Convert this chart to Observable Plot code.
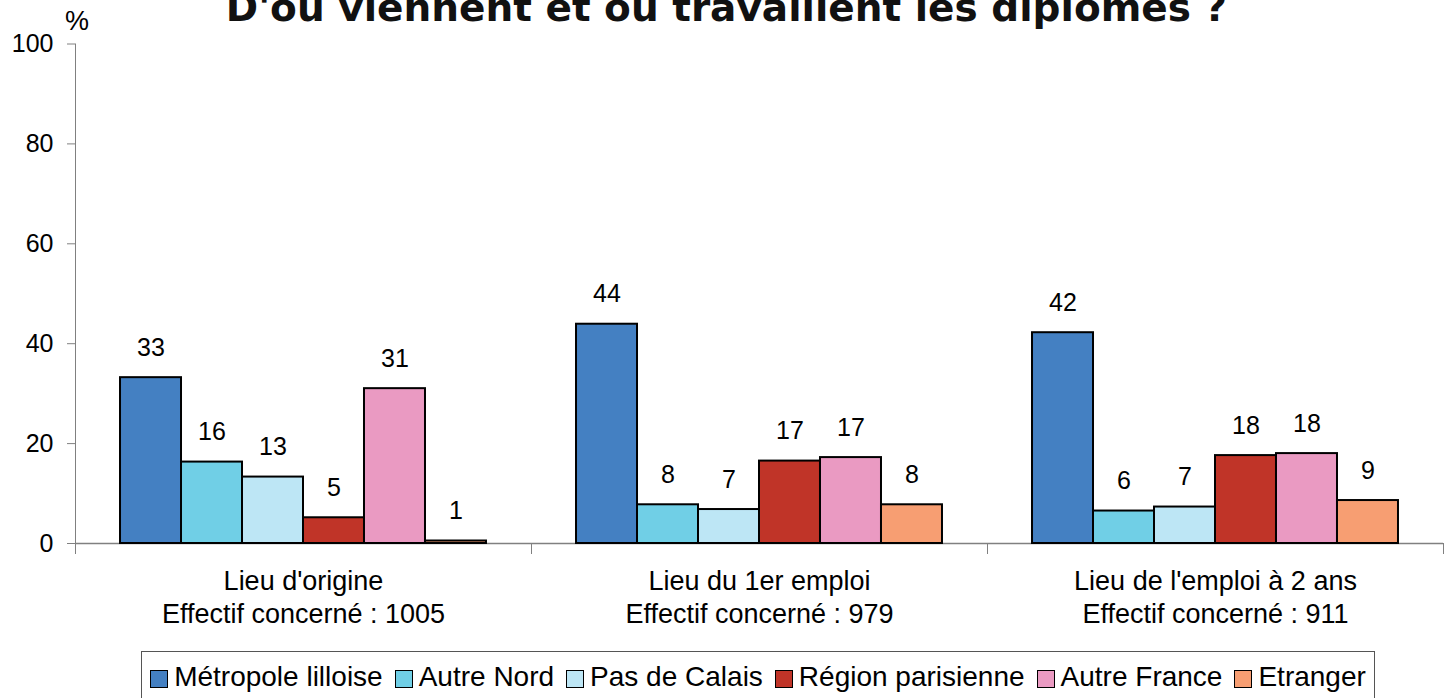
<!DOCTYPE html>
<html>
<head>
<meta charset="utf-8">
<script src="https://cdn.jsdelivr.net/npm/d3@7"></script>
<script src="https://cdn.jsdelivr.net/npm/@observablehq/plot@0.6"></script>
<style>
  html, body { margin: 0; padding: 0; background: #fff; overflow: hidden; }
  #wrap { position: relative; width: 1453px; height: 698px; font-family: "Liberation Sans", Arial, sans-serif; }
  #title { position: absolute; left: 0; width: 1453px; top: -14.5px; text-align: center;
    font-family: "DejaVu Sans", sans-serif;
    font-weight: bold; font-size: 39px; color: #111; white-space: nowrap; line-height: 44px; }
  #pct { position: absolute; left: 65px; top: 6px; font-size: 27px; line-height: 30px; }
  #legend { position: absolute; left: 141px; top: 651px; width: 1234px; height: 70px;
    border: 1px solid #555; box-sizing: border-box; display: flex; justify-content: center;
    align-items: flex-start; padding-top: 9px; font-size: 28px; white-space: nowrap; }
  .item { display: flex; align-items: center; margin: 0 6px; }
  .sw { width: 16px; height: 16px; border: 1.5px solid #000; margin-right: 6px; margin-top: 3px; }
  #chart { position: absolute; left: 0; top: 0; }
</style>
</head>
<body>
<div id="wrap">
  <div id="chart"></div>
  <div id="title"></div>
  <div id="pct">%</div>
  <div id="legend"></div>
</div>
<script>
const title = "D'où viennent et où travaillent les diplômés ?";
const groups = ["Lieu d'origine", "Lieu du 1er emploi", "Lieu de l'emploi à 2 ans"];
const effectifs = [1005, 979, 911];
const series = ["Métropole lilloise", "Autre Nord", "Pas de Calais", "Région parisienne", "Autre France", "Etranger"];
const colors = ["#4480C2", "#70CFE6", "#BDE6F5", "#C03428", "#EA9AC2", "#F79E72"];
const valuesOrigine = [33.2, 16.3, 13.3, 5.15, 31.0, 0.5];
const values1erEmploi = [43.9, 7.75, 6.8, 16.5, 17.2, 7.75];
const valuesEmploi2ans = [42.2, 6.5, 7.3, 17.6, 18.0, 8.6];
const labelsOrigine = [33, 16, 13, 5, 31, 1];
const labels1erEmploi = [44, 8, 7, 17, 17, 8];
const labelsEmploi2ans = [42, 6, 7, 18, 18, 9];
const yTicks = [0, 20, 40, 60, 80, 100];

const allValues = [valuesOrigine, values1erEmploi, valuesEmploi2ans];
const allLabels = [labelsOrigine, labels1erEmploi, labelsEmploi2ans];
const data = [];
groups.forEach((g, gi) => series.forEach((s, si) => data.push({
  group: g, series: s, value: allValues[gi][si], label: allLabels[gi][si]
})));
const groupLabels = groups.map((g, i) => ({group: g, text: g + "\nEffectif concerné : " + effectifs[i]}));

document.getElementById("title").textContent = title;

const axisColor = "#808080";
const chart = Plot.plot({
  width: 1453,
  height: 698,
  marginTop: 43.5,
  marginBottom: 155,
  marginLeft: 75,
  marginRight: 10,
  style: {fontFamily: "'Liberation Sans', Arial, sans-serif", fontSize: "25px", color: "#000", background: "transparent"},
  fx: {domain: groups, padding: 0, axis: null},
  x: {domain: series, paddingInner: 0, paddingOuter: 0.738, round: false, axis: null},
  y: {domain: [0, 100], axis: null},
  color: {domain: series, range: colors},
  marks: [
    Plot.axisY({ticks: yTicks, tickSize: 8, tickPadding: 14, stroke: axisColor, fill: "#000", fontSize: 25, label: null}),
    Plot.frame({anchor: "left", stroke: axisColor, facetAnchor: "left"}),
    Plot.frame({anchor: "left", stroke: axisColor, insetTop: 499.5, insetBottom: -10}),
    Plot.frame({anchor: "right", stroke: axisColor, insetTop: 499.5, insetBottom: -10, facetAnchor: "right"}),
    Plot.ruleY([0], {stroke: axisColor, strokeWidth: 1.5}),
    Plot.barY(data, {fx: "group", x: "series", y: "value", fill: "series", stroke: "#000", strokeWidth: 2}),
    Plot.text(data, {fx: "group", x: "series", y: "value", text: "label", dy: -30, fontSize: 25, fill: "#000"}),
    Plot.text(groupLabels, {fx: "group", text: "text", frameAnchor: "bottom", lineAnchor: "top", dy: 23.5, lineHeight: 1.22, fontSize: 27, fill: "#000"})
  ]
});
document.getElementById("chart").appendChild(chart);

const legend = document.getElementById("legend");
series.forEach((s, i) => {
  const it = document.createElement("div");
  it.className = "item";
  const sw = document.createElement("div");
  sw.className = "sw";
  sw.style.background = colors[i];
  const t = document.createElement("span");
  t.textContent = s;
  it.appendChild(sw); it.appendChild(t);
  legend.appendChild(it);
});
</script>
</body>
</html>
